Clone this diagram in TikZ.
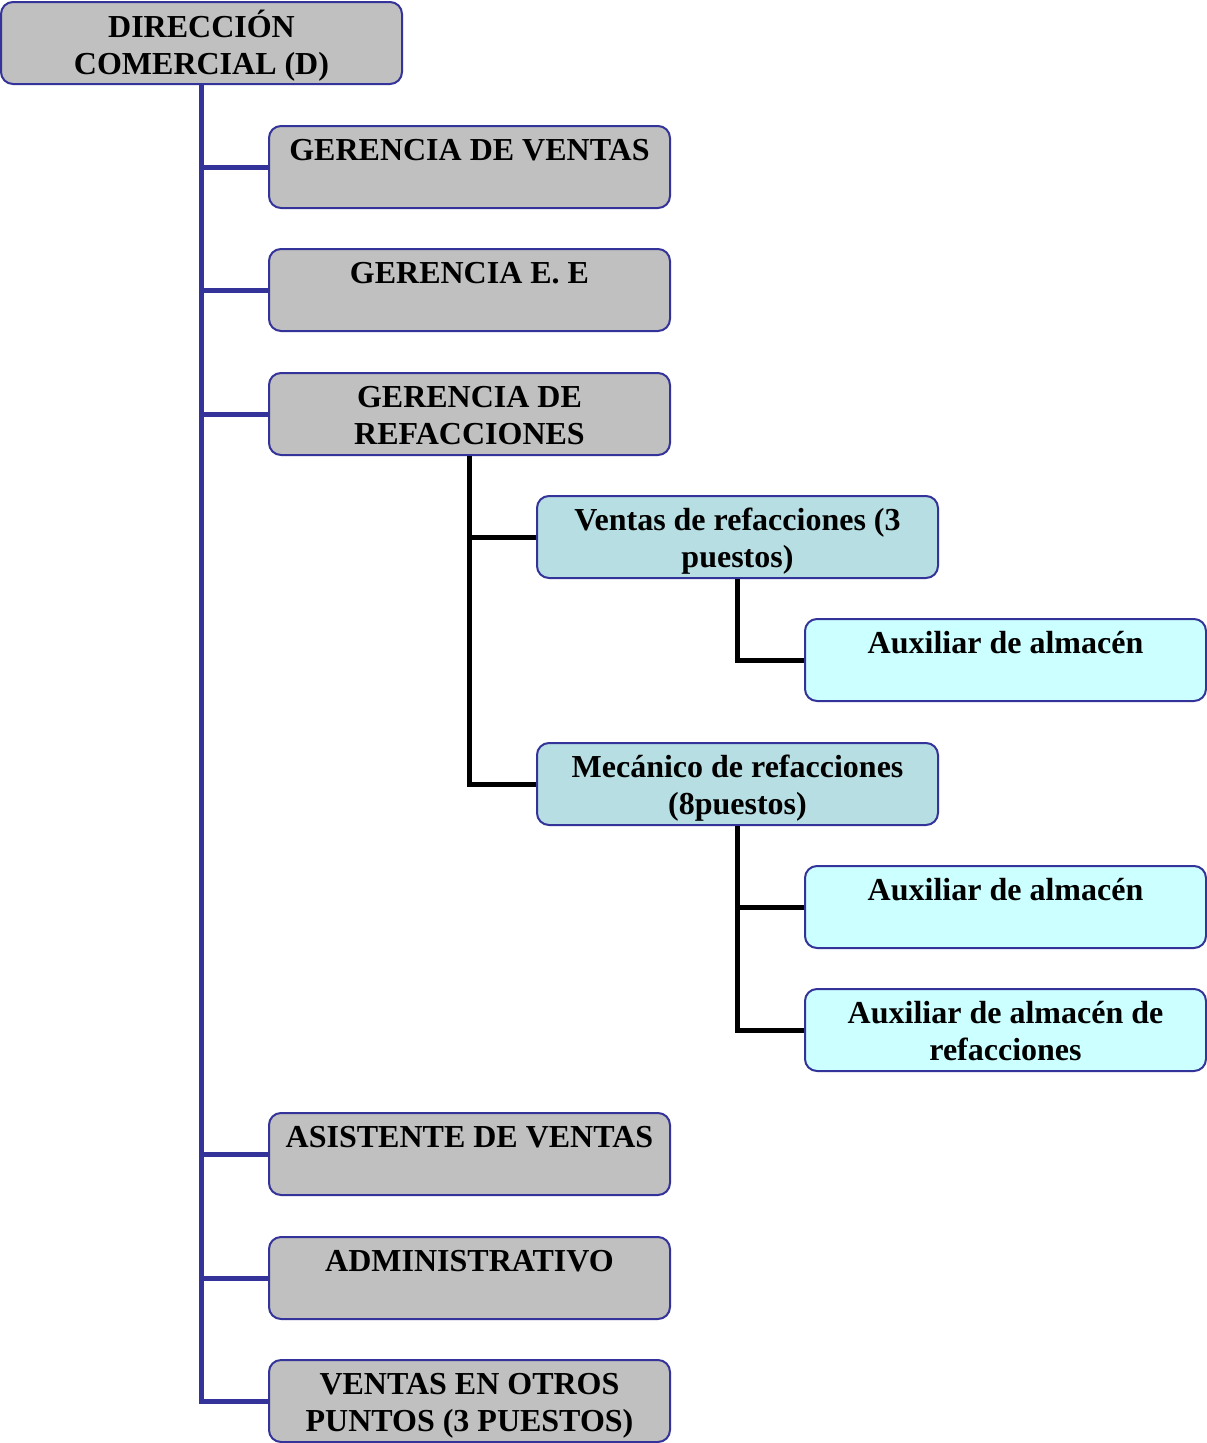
\documentclass[tikz,border=0pt]{standalone}
\usepackage{fontspec}
\setmainfont{Liberation Serif}
\begin{document}
\begin{tikzpicture}[x=1pt,y=-1pt,
  box/.style={draw=bordercol, line width=2pt, rounded corners=12pt,
    minimum width=401pt, minimum height=82pt, inner sep=0pt},
  graybox/.style={box, fill=grayfill},
  tealbox/.style={box, fill=tealfill},
  cyanbox/.style={box, fill=cyanfill},
  txt/.style={anchor=north, inner sep=0pt, align=center,
    font=\fontsize{32}{37}\selectfont\bfseries},
  blueline/.style={draw=bordercol, line width=5pt},
  blackline/.style={draw=black, line width=5pt}]
\definecolor{bordercol}{HTML}{333399}
\definecolor{grayfill}{HTML}{C0C0C0}
\definecolor{tealfill}{HTML}{B7DEE2}
\definecolor{cyanfill}{HTML}{CCFFFF}
\useasboundingbox (0,0) rectangle (1207,1443);

% boxes
\node[graybox] (d)  at (201.5,43) {};
\node[graybox] (gv) at (469.5,167) {};
\node[graybox] (ge) at (469.5,290) {};
\node[graybox] (gr) at (469.5,414) {};
\node[graybox] (as) at (469.5,1154) {};
\node[graybox] (ad) at (469.5,1278) {};
\node[graybox] (vo) at (469.5,1401) {};
\node[tealbox] (vr) at (737.5,537) {};
\node[tealbox] (mr) at (737.5,784) {};
\node[cyanbox] (a1) at (1005.5,660) {};
\node[cyanbox] (a2) at (1005.5,907) {};
\node[cyanbox] (a3) at (1005.5,1030) {};

% connectors
\draw[blueline] (d.south) |- (gv.west);
\draw[blueline] (d.south) |- (ge.west);
\draw[blueline] (d.south) |- (gr.west);
\draw[blueline] (d.south) |- (as.west);
\draw[blueline] (d.south) |- (ad.west);
\draw[blueline] (d.south) |- (vo.west);
\draw[blackline] (gr.south) |- (vr.west);
\draw[blackline] (gr.south) |- (mr.west);
\draw[blackline] (vr.south) |- (a1.west);
\draw[blackline] (mr.south) |- (a2.west);
\draw[blackline] (mr.south) |- (a3.west);

% texts
\node[txt] (td)  at ([yshift=-9pt]d.north)  {\strut DIRECCIÓN\\\strut COMERCIAL (D)};
\node[txt] (tgv) at ([yshift=-9pt]gv.north) {\strut GERENCIA DE VENTAS};
\node[txt] (tge) at ([yshift=-9pt]ge.north) {\strut GERENCIA E. E};
\node[txt] (tgr) at ([yshift=-9pt]gr.north) {\strut GERENCIA DE\\\strut REFACCIONES};
\node[txt] (tas) at ([yshift=-9pt]as.north) {\strut ASISTENTE DE VENTAS};
\node[txt] (tad) at ([yshift=-9pt]ad.north) {\strut ADMINISTRATIVO};
\node[txt] (tvo) at ([yshift=-9pt]vo.north) {\strut VENTAS EN OTROS\\\strut PUNTOS (3 PUESTOS)};
\node[txt] (tvr) at ([yshift=-9pt]vr.north) {\strut Ventas de refacciones (3\\\strut puestos)};
\node[txt] (tmr) at ([yshift=-9pt]mr.north) {\strut Mecánico de refacciones\\\strut (8puestos)};
\node[txt] (ta1) at ([yshift=-9pt]a1.north) {\strut Auxiliar de almacén};
\node[txt] (ta2) at ([yshift=-9pt]a2.north) {\strut Auxiliar de almacén};
\node[txt] (ta3) at ([yshift=-9pt]a3.north) {\strut Auxiliar de almacén de\\\strut refacciones};
\end{tikzpicture}
\end{document}
